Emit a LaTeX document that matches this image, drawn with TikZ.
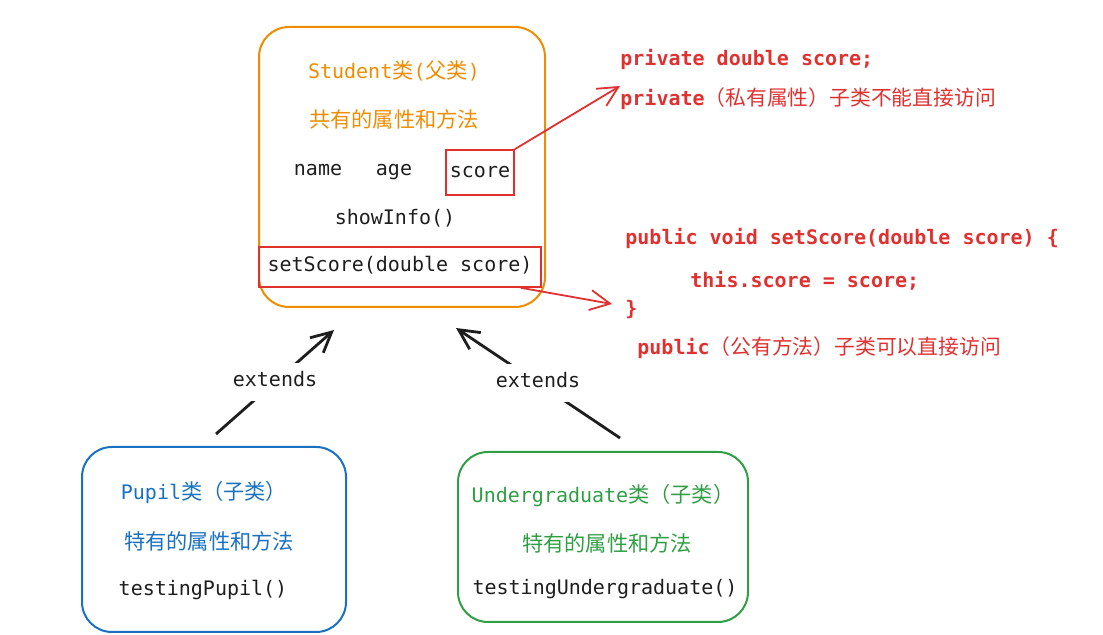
\documentclass[tikz,border=0pt]{standalone}
\usepackage{fontspec}
\setmonofont{DejaVu Sans Mono}
\newfontfamily\cjk{Noto Sans CJK SC}
\usepackage{xcolor}
\usetikzlibrary{
    positioning,
    arrows.meta,
}
\definecolor{exOrange}{HTML}{F08C00}
\definecolor{exBlue}{HTML}{1971C2}
\definecolor{exGreen}{HTML}{2F9E44}
\definecolor{exRed}{HTML}{E03131}
\definecolor{exInk}{HTML}{1E1E1E}
\newcommand{\zh}[1]{{\cjk\mdseries\fontsize{10.6}{13}\selectfont #1}}
\newcommand{\zhs}[1]{{\cjk\mdseries\fontsize{10.4}{12}\selectfont #1}}
\tikzset{
    % Box styles
    class box/.style={rectangle, draw, line width=1pt, rounded corners=15pt},
    mark box/.style={rectangle, draw=exRed, line width=0.8pt, inner sep=0pt},
    % Text styles
    member/.style={font=\ttfamily\fontsize{10}{12}\selectfont, text=exInk,
                   text height=7pt, text depth=2pt, inner sep=1pt},
    title/.style={member, text height=8.5pt, text depth=2.5pt},
    note/.style={font=\ttfamily\bfseries\fontsize{10}{12}\selectfont, text=exRed,
                 anchor=west, inner sep=0pt, text height=8pt, text depth=2.5pt},
    % Arrow styles
    inherit/.style={-{Straight Barb[length=10pt, width=10pt]}, line width=1.4pt, exInk},
    access/.style={-{Straight Barb[length=10pt, width=10pt]}, line width=0.9pt, exRed},
    link label/.style={member, fill=white, inner xsep=1pt, inner ysep=5pt},
}

\begin{document}
\begin{tikzpicture}[x=0.5pt, y=-0.5pt]
    \useasboundingbox (0,0) rectangle (1103,635);

    % Student (parent class)
    \node[class box, draw=exOrange, minimum width=143pt, minimum height=140pt] (student) at (402,167) {};
    \node[title, text=exOrange] (studentTitle) at (394,73) {Student\zh{类}(\zh{父类})};
    \node[title, text=exOrange] (studentNote) at (394,122) {\zh{共有的属性和方法}};
    \node[member] (name) at (318,171) {name};
    \node[member] (age) at (394,171) {age};
    \node[member, mark box, minimum width=34pt, minimum height=22.5pt] (score) at (480,172.5) {score};
    \node[member] (showInfo) at (395,220) {showInfo()};
    \node[member, mark box, minimum width=141pt, minimum height=20pt] (setter) at (400,267) {setScore(double score)};

    % Notes on access
    \node[note] (privField) at (620,60) {private double score;};
    \node[note] (privText) at (620,100) {private\zhs{（私有属性）子类不能直接访问}};
    \node[note] (pubSig) at (625,239) {public void setScore(double score) \{};
    \node[note] (pubBody) at (690,282) {this.score = score;};
    \node[note] (pubEnd) at (625,310) {\}};
    \node[note] (pubText) at (637,349) {public\zhs{（公有方法）子类可以直接访问}};

    \coordinate (privTip) at (620,86);
    \coordinate (pubTip) at (612,304);
    \draw[access] (score.north east) -- (privTip);
    \draw[access] ([xshift=-10.5pt]setter.south east) -- (pubTip);

    % Pupil (child class)
    \node[class box, draw=exBlue, minimum width=132pt, minimum height=92.5pt] (pupil) at (214,539.5) {};
    \node[title, text=exBlue] (pupilTitle) at (204,494) {Pupil\zh{类（子类）}};
    \node[title, text=exBlue] (pupilNote) at (209,544) {\zh{特有的属性和方法}};
    \node[member] (testPupil) at (203,591) {testingPupil()};

    % Undergraduate (child class)
    \node[class box, draw=exGreen, minimum width=145pt, minimum height=85pt] (under) at (603,537) {};
    \node[title, text=exGreen] (underTitle) at (603,497) {Undergraduate\zh{类（子类）}};
    \node[title, text=exGreen] (underNote) at (607,546) {\zh{特有的属性和方法}};
    \node[member] (testUnder) at (605,590) {testingUndergraduate()};

    % Inheritance arrows
    \coordinate (pupilTail) at (216,434);
    \coordinate (pupilHead) at (334,330);
    \coordinate (underTail) at (620,438);
    \coordinate (underHead) at (456,328);
    \draw[inherit] (pupilTail) -- node[link label] (extLeft) {extends} (pupilHead);
    \draw[inherit] (underTail) -- node[link label] (extRight) {extends} (underHead);
\end{tikzpicture}
\end{document}
